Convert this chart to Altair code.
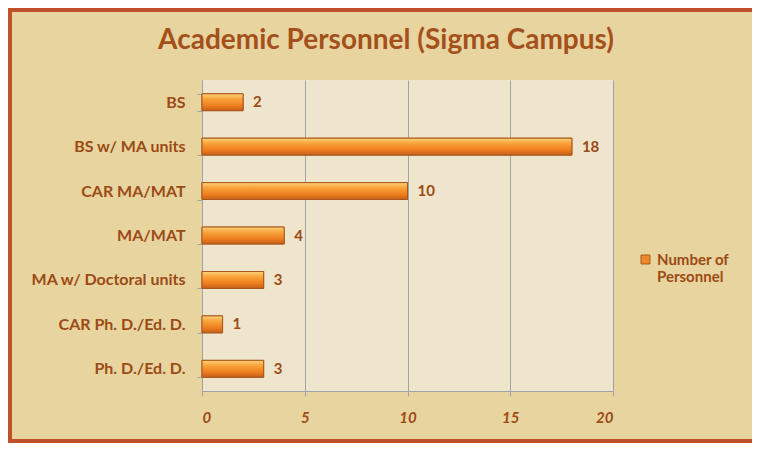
import altair as alt
import pandas as pd

categories = ["BS", "BS w/ MA units", "CAR MA/MAT", "MA/MAT",
              "MA w/ Doctoral units", "CAR Ph. D./Ed. D.", "Ph. D./Ed. D."]
values = [2, 18, 10, 4, 3, 1, 3]
series_name = "Number of Personnel"
x_ticks = [0, 5, 10, 15, 20]
title_text = "Academic Personnel (Sigma Campus)"

df = pd.DataFrame({"category": categories, "value": values, "series": series_name})

FONT = "Lato"
BROWN = "#9C4A16"
TITLE_BROWN = "#A4501C"

W, H = 411, 311
PAD_L, PAD_T, PAD_R, PAD_B = 194, 72, 139, 52

y_enc = alt.Y("category:N", sort=categories, title=None,
              scale=alt.Scale(paddingInner=0.62, paddingOuter=0.31),
              axis=alt.Axis(tickBand="extent", ticks=True, tickSize=5, tickColor="#A0A4A8",
                            domainColor="#A0A4A8", labelFont=FONT, labelFontSize=16,
                            labelFontWeight="bold", labelColor=BROWN, labelPadding=12,
                            grid=False, labelLimit=300))
x_enc = alt.X("value:Q", title=None,
              scale=alt.Scale(domain=[0, 20], nice=False),
              axis=alt.Axis(values=x_ticks, tickSize=5, tickColor="#A0A4A8",
                            domainColor="#A0A4A8", gridColor="#A0A4A8", grid=True,
                            labelFont=FONT, labelFontSize=15, labelFontWeight="bold",
                            labelFontStyle="italic", labelColor=BROWN, labelPadding=14))

base = alt.Chart(df)

legend_bars = base.mark_bar(stroke="#A8581C", strokeWidth=1).encode(
    x=x_enc, y=y_enc,
    color=alt.Color("series:N", title=None,
                    scale=alt.Scale(range=["#EE8A2A"]),
                    legend=alt.Legend(orient="none", legendX=436, legendY=172,
                                      symbolType="square", symbolSize=80,
                                      symbolStrokeColor="#A8581C", symbolStrokeWidth=1,
                                      labelFont=FONT, labelFontSize=15, labelFontWeight="bold",
                                      labelColor=BROWN, labelExpr="['Number of', 'Personnel']",
                                      labelLimit=200)))

grad = alt.Gradient(gradient="linear", x1=0, y1=0, x2=0, y2=1,
                    stops=[alt.GradientStop(color="#FFD27A", offset=0),
                           alt.GradientStop(color="#F8A43C", offset=0.3),
                           alt.GradientStop(color="#EE7E1E", offset=0.7),
                           alt.GradientStop(color="#C4601A", offset=1)])
grad_bars = base.mark_bar(color=grad, stroke="#A8581C", strokeWidth=1).encode(
    x="value:Q", y=alt.Y("category:N", sort=categories))

labels = base.mark_text(align="left", baseline="middle", dx=10, font=FONT,
                        fontSize=15, fontWeight="bold", color=BROWN).encode(
    x="value:Q", y=alt.Y("category:N", sort=categories), text="value:Q")

title_df = pd.DataFrame({"t": [title_text]})
title = alt.Chart(title_df).mark_text(align="center", baseline="alphabetic", font=FONT,
                                      fontSize=28, fontWeight="bold", color=TITLE_BROWN,
                                      clip=False).encode(
    text="t:N", x=alt.value(386 - 8 - PAD_L), y=alt.value(49 - 8 - PAD_T))

frame = base.mark_rect(fill=None, stroke="#C0502A", strokeWidth=3, clip=False).encode(
    x=alt.value(-PAD_L + 2), x2=alt.value(W + PAD_R + 10),
    y=alt.value(-PAD_T + 2), y2=alt.value(H + PAD_B - 2))

chart = alt.layer(legend_bars, grad_bars, labels, title, frame).properties(
    width=W, height=H,
    autosize=alt.AutoSizeParams(type="none"),
    padding={"left": PAD_L, "top": PAD_T, "right": PAD_R, "bottom": PAD_B},
    background="#E8D49E",
).configure_view(fill="#EFE5CC", stroke=None)

chart.save("out.html", embed_options={"renderer": "svg", "actions": False})
